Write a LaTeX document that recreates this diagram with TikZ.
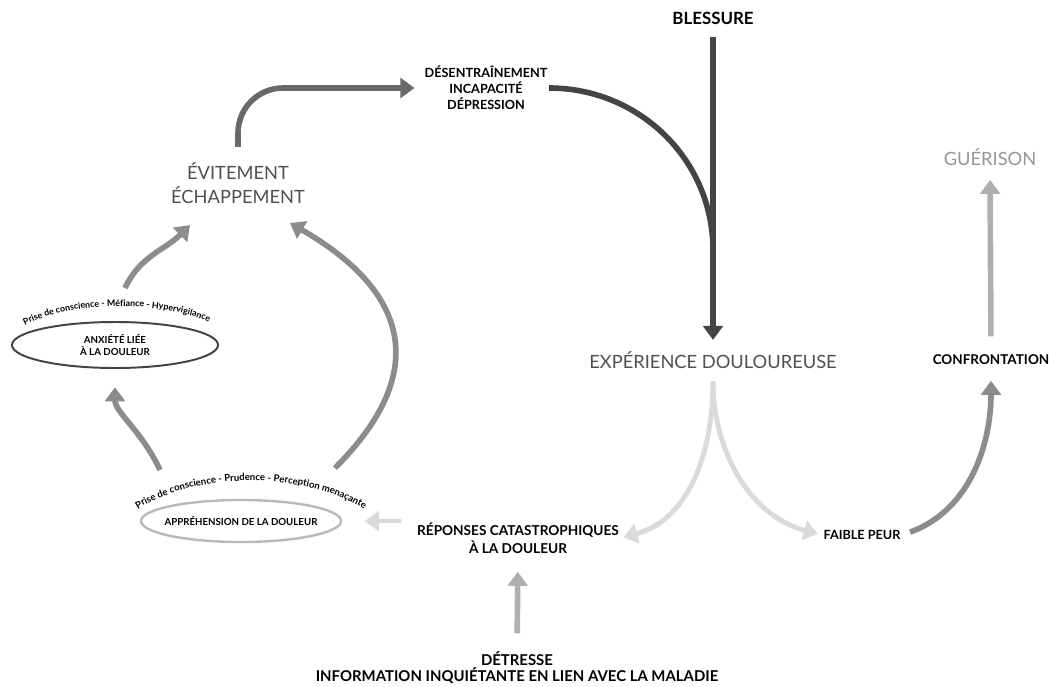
\documentclass[tikz,border=0pt]{standalone}
\usepackage{fontspec}
\setmainfont{Lato}
\usepackage{tikz}
\usetikzlibrary{shapes,arrows.meta,positioning,decorations.text}
\definecolor{arrowdark}{RGB}{68,68,68}
\definecolor{arrowmid}{RGB}{105,105,105}
\definecolor{arrowloop}{RGB}{140,140,140}
\definecolor{arrowlight}{RGB}{175,175,175}
\definecolor{arrowpale}{RGB}{218,218,218}
\definecolor{textgray}{RGB}{80,80,80}
\definecolor{guerisongray}{RGB}{150,150,150}
\definecolor{ringlight}{RGB}{185,185,185}
\newcommand{\arclabel}{\bfseries\fontsize{6.3}{7}\selectfont}
\newcommand{\arclabelwide}{\bfseries\fontsize{6.8}{7.5}\selectfont}

\begin{document}
\begin{tikzpicture}[x=0.025cm, y=-0.025cm,
  heading/.style={font=\fontsize{13}{17}\selectfont, text=textgray, align=center, inner sep=1pt},
  tag/.style={font=\bfseries\fontsize{9}{11.3}\selectfont, align=center, inner sep=1pt},
  bubble/.style={ellipse, line width=1.4pt, font=\bfseries\fontsize{6.9}{8.5}\selectfont, align=center, inner sep=0pt},
  flow/.style={line width=4pt, -{Triangle[width=14pt,length=10pt]}}]
\useasboundingbox (0,0) rectangle (1049,686);

% right part
\node[tag, font=\bfseries\fontsize{12}{14}\selectfont] (blessure) at (713,18) {BLESSURE};
\node[tag] (desentr) at (486,88) {DÉSENTRAÎNEMENT\\INCAPACITÉ\\DÉPRESSION};
\node[heading] (exper) at (713,360) {EXPÉRIENCE DOULOUREUSE};
\node[tag, font=\bfseries\fontsize{9.6}{11.3}\selectfont] (confront) at (991,360) {CONFRONTATION};
\node[heading, text=guerisongray] (guerison) at (990,157) {GUÉRISON};
\node[tag] (faible) at (862,535) {FAIBLE PEUR};
\node[tag, font=\bfseries\fontsize{9.7}{12.5}\selectfont] (reponses) at (518,538) {RÉPONSES CATASTROPHIQUES\\À LA DOULEUR};
\node[tag, font=\bfseries\fontsize{10.6}{11.5}\selectfont] (detresse) at (517,668) {DÉTRESSE\\INFORMATION INQUIÉTANTE EN LIEN AVEC LA MALADIE};

% left loop
\node[heading] (evit) at (238,183) {ÉVITEMENT\\ÉCHAPPEMENT};
\node[bubble, draw=arrowdark, minimum width=5.15cm, minimum height=1.15cm] (anxiete) at (115,345) {ANXIÉTÉ LIÉE\\À LA DOULEUR};
\node[bubble, draw=ringlight, line width=1.7pt, inner xsep=-10pt, minimum width=5cm, minimum height=1.05cm] (apprehension) at (241,521) {APPRÉHENSION DE LA DOULEUR};

\path[decorate, decoration={text along path, text align=center,
  text={|\arclabel|Prise de conscience - Méfiance - Hypervigilance}}]
  (16,330) .. controls (66,299) and (164,299) .. (218,326);
\path[decorate, decoration={text along path, text align=center,
  text={|\arclabelwide|Prise de conscience - Prudence - Perception menaçante}}]
  (128,516) .. controls (188,469) and (312,469) .. (374,516);

\coordinate (merge) at (713,250);

\draw[flow, draw=arrowdark, shorten <=8pt, shorten >=7pt] (blessure.south) -- (exper.north);
\draw[line width=4pt, draw=arrowdark] (desentr.east) to[out=0, in=90] (merge);
\draw[flow, draw=arrowmid, rounded corners=32pt, shorten <=10pt, shorten >=6pt] (evit.north) |- (desentr.west);

\draw[flow, draw=arrowpale, line width=3.5pt, shorten <=8pt, shorten >=2pt] (exper.south) to[out=-90, in=15] (reponses.east);
\draw[flow, draw=arrowpale, line width=3.5pt, shorten <=8pt, shorten >=3pt] (exper.south) to[out=-90, in=165] (faible.west);
\draw[flow, draw=arrowloop, shorten <=6pt, shorten >=10pt] (faible.east) to[out=20, in=-90] (confront.south);
\draw[flow, draw=arrowlight, shorten <=12pt, shorten >=9pt] (confront.north) -- (guerison.south);
\draw[flow, draw=arrowlight, shorten <=12pt, shorten >=12pt] (detresse.north) -- (reponses.south);
\draw[flow, draw=arrowpale, line width=3pt, shorten <=10pt, shorten >=16pt] (reponses.north west) -- (apprehension.east);

\draw[flow, draw=arrowloop, shorten >=13pt] ([shift={(-81,-51)}]apprehension.center) to[out=115, in=-90] (anxiete.south);
\draw[flow, draw=arrowloop] ([shift={(10,-57)}]anxiete.center) to[out=65, in=-135] ([shift={(-48,42)}]evit.center);
\draw[flow, draw=arrowloop] ([shift={(94,-53)}]apprehension.center) to[out=45, in=-30, looseness=1.4] ([shift={(52,40)}]evit.center);
\end{tikzpicture}
\end{document}
